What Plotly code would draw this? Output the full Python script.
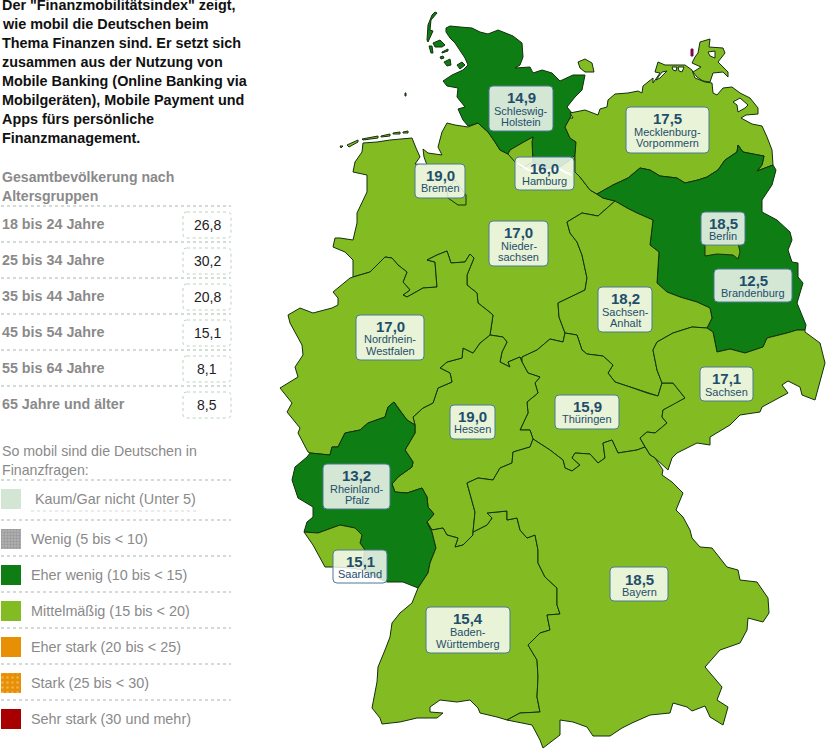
## Finanzmobilitaetsindex map of Germany with the side panel on the left
import plotly.graph_objects as go

intro_lines = ['Der "Finanzmobilitätsindex" zeigt,', 'wie mobil die Deutschen beim',
               'Thema Finanzen sind. Er setzt sich', 'zusammen aus der Nutzung von',
               'Mobile Banking (Online Banking via', 'Mobilgeräten), Mobile Payment und',
               'Apps fürs persönliche', 'Finanzmanagement.']
age_title = ['Gesamtbevölkerung nach', 'Altersgruppen']
age_groups = ['18 bis 24 Jahre', '25 bis 34 Jahre', '35 bis 44 Jahre',
              '45 bis 54 Jahre', '55 bis 64 Jahre', '65 Jahre und älter']
age_values = [26.8, 30.2, 20.8, 15.1, 8.1, 8.5]
legend_title = ['So mobil sind die Deutschen in', 'Finanzfragen:']
legend_labels = ['Kaum/Gar nicht (Unter 5)', 'Wenig (5 bis < 10)', 'Eher wenig (10 bis < 15)',
                 'Mittelmäßig (15 bis < 20)', 'Eher stark (20 bis < 25)',
                 'Stark (25 bis < 30)', 'Sehr stark (30 und mehr)']
legend_colors = ['#D3E5D3', '#9C9C9C', '#0E7D14', '#82BC22', '#E89005', '#E89005', '#A80000']
bin_edges = [5, 10, 15, 20, 25, 30]

states = ['Schleswig-Holstein', 'Hamburg', 'Bremen', 'Niedersachsen', 'Mecklenburg-Vorpommern',
          'Berlin', 'Brandenburg', 'Sachsen-Anhalt', 'Nordrhein-Westfalen', 'Hessen',
          'Rheinland-Pfalz', 'Saarland', 'Thüringen', 'Sachsen', 'Baden-Württemberg', 'Bayern']
state_values = [14.9, 16.0, 19.0, 17.0, 17.5, 18.5, 12.5, 18.2, 17.0, 19.0, 13.2, 15.1, 15.9, 17.1, 15.4, 18.5]
state_lines = [['Schleswig-', 'Holstein'], ['Hamburg'], ['Bremen'], ['Nieder-', 'sachsen'],
               ['Mecklenburg-', 'Vorpommern'], ['Berlin'], ['Brandenburg'], ['Sachsen-', 'Anhalt'],
               ['Nordrhein-', 'Westfalen'], ['Hessen'], ['Rheinland-', 'Pfalz'], ['Saarland'],
               ['Thüringen'], ['Sachsen'], ['Baden-', 'Württemberg'], ['Bayern']]

# label boxes: x0, y0, x1, y1, y of value, y of each name line (same order as states)
label_boxes = [(489, 86, 553, 131, 97, [111, 122]), (515, 157, 574, 190, 168, [181]),
               (415, 164, 465, 198, 175, [188]), (489, 221, 548, 266, 232, [246, 257]),
               (626, 107, 709, 153, 118, [132, 143]), (701, 212, 745, 245, 223, [236]),
               (714, 269, 792, 302, 280, [293]), (598, 287, 652, 332, 298, [312, 323]),
               (356, 315, 424, 360, 326, [339, 351]), (450, 405, 495, 439, 416, [429]),
               (323, 464, 390, 509, 475, [489, 500]), (333, 550, 387, 583, 561, [574]),
               (555, 395, 619, 429, 406, [419]), (700, 367, 753, 401, 378, [392]),
               (426, 607, 510, 653, 618, [632, 644]), (610, 567, 668, 601, 579, [592])]

sh_coast = [(478,123),(468,126),(463,120),(458,109),(465,107),(457,97),(458,88),(447,86),(443,81),(452,75),
            (463,70),(468,65),(465,58),(455,43),(450,38),(446,32),(446,28),(450,26),(460,27),(472,28),(480,32),
            (488,34),(498,30),(505,33),(513,36),(522,43),(523,57),(520,65),(515,68),(530,67),(533,73),(542,70),
            (552,73),(560,81),(573,75),(585,75),(582,90),(575,97),(567,107),(572,113),(570,118)]
sh_mv = [(570,118),(565,127),(570,138),(576,142),(575,155)]
sh_ni = [(575,155),(570,160),(558,168),(545,168),(533,162),(532,142),(533,137),(522,143),(510,150),(508,154),
         (500,150),(495,142),(488,132),(478,123)]
ni_coast = [(478,123),(468,127),(455,125),(447,123),(442,132),(438,147),(442,155),(428,153),(423,149),(424,157),
            (427,165),(415,164),(420,157),(416,148),(412,138),(390,140),(377,142),(363,143),(362,152),(355,162),
            (353,172),(367,175),(367,192),(357,213),(357,223),(353,240),(340,238),(335,238),(333,247),(345,252),
            (353,260),(353,277)]
mv_ni = [(575,155),(575,172),(580,177),(590,190),(597,194)]
mv_coast = [(570,118),(573,118),(570,113),(585,110),(598,115),(600,109),(607,107),(608,100),(615,94),(628,93),
            (638,91),(642,93),(643,86),(653,78),(653,83),(660,73),(655,72),(658,62),(665,65),(685,65),(692,70),
            (695,78),(705,82),(712,83),(713,93),(717,95),(723,88),(732,87),(740,93),(750,98),(758,108),(758,114),
            (746,115),(741,118),(752,124),(762,126),(767,137),(772,150),(773,165)]
bb_mv = [(597,194),(613,185),(628,178),(640,168),(650,170),(660,176),(677,178),(685,183),(698,180),(707,177),
         (718,170),(725,160),(737,152),(738,145),(743,152),(757,155),(764,156),(762,165),(757,171),(773,165)]
bb_east = [(773,165),(776,170),(772,185),(762,200),(762,212),(777,220),(790,232),(792,240),(788,250),(792,262),
           (798,263),(798,277),(803,283),(797,303),(806,325),(805,330)]
bb_sn = [(805,330),(797,330),(787,333),(767,338),(763,347),(745,353),(730,349),(717,352),(713,332),(707,328)]
bb_st = [(707,328),(712,318),(710,308),(697,302),(680,297),(667,292),(657,283),(659,252),(650,245),(653,220),
         (637,213),(627,208),(615,201)]
bb_ni = [(615,201),(603,198),(597,194)]
st_ni = [(615,201),(598,216),(582,213),(570,220),(567,222),(570,233),(577,242),(582,255),(587,278),(585,290),
         (570,297),(558,303),(559,317),(565,333)]
st_th = [(565,333),(577,335),(582,350),(587,354),(603,356),(613,365),(608,373),(615,382),(633,388),(647,393),
         (658,396),(662,383)]
st_sn = [(662,383),(657,370),(653,350),(657,342),(673,333),(692,327),(707,328)]
th_sn = [(662,383),(673,383),(685,398),(673,405),(663,410),(662,417),(667,423),(655,433),(647,432),(640,438),(645,447)]
th_by = [(645,447),(637,450),(618,453),(612,440),(603,443),(605,458),(598,463),(590,454),(575,453),(572,458),
         (580,465),(572,471),(565,468),(563,460),(550,450),(533,439)]
th_he = [(533,439),(530,430),(520,430),(528,413),(527,402),(538,393),(535,383),(540,377),(528,373),(522,362)]
th_ni = [(522,362),(522,357),(537,350),(550,339),(563,342),(565,333)]
he_ni = [(522,362),(520,357),(508,362),(510,367),(500,362),(502,352),(507,342),(503,337),(490,335)]
he_nw = [(490,335),(480,343),(473,353),(463,348),(462,358),(447,362),(440,368),(450,373),(452,382),(438,388),
         (433,403),(423,408),(413,417),(415,425)]
he_rp = [(415,425),(415,433),(405,450),(413,462),(412,467),(398,477),(392,484),(395,492),(407,493),(422,488),
         (427,497),(428,507),(434,514),(427,522)]
he_bw = [(427,522),(432,530),(443,528),(447,535),(458,538),(455,547),(463,545),(473,535),(473,532)]
he_by = [(473,532),(475,512),(467,483),(478,478),(493,480),(500,468),(512,463),(513,452),(530,447),(533,439)]
nw_ni = [(353,277),(370,272),(385,257),(392,258),(398,265),(407,272),(403,282),(410,290),(403,295),(407,297),
         (423,288),(437,287),(435,262),(427,260),(437,255),(447,251),(451,263),(465,262),(470,254),(474,258),
         (467,275),(467,285),(477,293),(478,303),(487,310),(493,315),(490,335)]
nw_west = [(310,453),(308,452),(298,433),(300,428),(287,412),(292,403),(280,388),(298,377),(295,367),(303,355),
           (302,345),(298,338),(290,323),(288,315),(300,308),(313,313),(317,312),(332,308),(338,305),(338,298),
           (333,292),(350,278),(353,277)]
nw_rp = [(310,453),(330,455),(332,447),(338,447),(345,433),(360,430),(368,423),(385,417),(388,407),(394,402),
         (398,408),(407,420),(415,425)]
rp_west = [(310,453),(307,457),(295,467),(292,480),(298,498),(313,507),(313,517),(307,522),(304,532)]
rp_sl = [(304,532),(318,533),(340,525),(355,528),(362,535),(360,543),(365,550),(363,560),(365,570)]
sl_south = [(304,532),(313,545),(325,567),(333,567),(350,568),(365,570)]
rp_south = [(365,570),(375,577),(387,582),(403,582),(418,588)]
rp_bw = [(418,588),(428,573),(430,563),(436,548),(432,532),(427,522)]
bw_by = [(473,532),(487,525),(492,518),(487,513),(507,511),(507,520),(517,518),(520,530),(527,538),(535,535),
         (538,550),(538,563),(545,577),(557,588),(557,605),(560,614),(547,615),(550,630),(540,633),(528,645),
         (537,660),(538,677),(537,697),(540,712),(520,713),(507,720)]
bw_south = [(418,588),(412,603),(400,613),(392,623),(390,637),(385,650),(378,667),(377,682),(372,708),(380,718),
            (382,724),(400,722),(417,718),(437,718),(443,713),(430,712),(430,707),(440,700),(457,702),(470,700),
            (478,708),(480,713),(497,717),(507,720)]
by_south = [(507,720),(532,725),(540,740),(543,748),(560,735),(560,720),(573,722),(587,727),(593,736),(610,736),
            (622,728),(632,723),(650,715),(670,713),(673,703),(687,707),(692,711),(705,706),(710,717),(723,725),
            (728,707),(717,700),(722,687),(705,667),(720,650),(740,643),(747,630),(748,618),(763,622),(769,613),
            (768,598),(757,582),(740,580),(738,570),(727,567),(712,548),(700,547),(692,538),(690,530),(683,517),
            (676,510),(683,493),(672,482),(662,475),(663,470),(655,458)]
sn_by = [(645,447),(650,455),(655,458)]
sn_south = [(655,458),(668,470),(672,458),(677,453),(697,443),(710,445),(710,437),(730,425),(740,415),(760,412),
            (762,407),(788,393),(782,385),(788,381),(800,387),(802,395),(815,400),(825,363),(820,343),(805,332),(805,330)]

hamburg_outline = [(508,154),(510,150),(522,143),(533,137),(532,142),(533,162),(522,168),(515,162)]
bremen_outline = [(447,190),(448,198),(458,205),(466,205),(466,195),(455,180)]
berlin_outline = [(705,243),(705,248),(705,256),(717,254),(733,255),(738,259),(740,252),(738,243)]
sh_islands = [[(435,12),(437,13),(431,20),(430,30),(433,31),(428,42),(427,40),(428,25),(432,15)],
              [(433,43),(440,40),(445,45),(442,47),(435,47)], [(429,46),(432,46),(433,53),(431,53)],
              [(442,52),(448,49),(448,51),(442,53)], [(440,57),(443,56),(444,58),(441,59)],
              [(444,62),(450,59),(451,65),(447,66)], [(457,65),(462,62),(465,65),(460,69)],
              [(405,93),(406,93),(406,96),(405,96)]]
ni_islands = [[(340,146),(343,146),(341,148)], [(347,145),(358,140),(358,142),(349,147)],
              [(362,139),(378,136),(378,138),(363,140)], [(381,136),(390,134),(390,136),(381,137)],
              [(393,133),(400,132),(400,134),(393,134)], [(403,132),(408,131),(408,133),(403,133)]]
mv_islands = [[(700,42),(710,39),(709,47),(723,48),(725,53),(718,62),(728,72),(728,77),(723,72),(713,73),(710,82),
               (703,81),(697,77),(693,72),(701,67),(692,63),(695,57),(698,53)],
              [(578,62),(585,59),(592,63),(594,72),(585,72),(580,68)]]
hiddensee = [(691,49),(693,49),(693,56),(691,56)]
water_holes = [[(656,80),(662,72),(667,71),(660,78)], [(672,67),(677,67),(676,71),(673,70)],
               [(678,67),(684,67),(682,72),(679,71)], [(708,52),(715,51),(715,58),(710,56)],
               [(733,102),(740,98),(748,105),(745,108),(738,112),(737,105)]]
elbe_line = [(517,163),(525,168),(533,172),(545,172),(558,168),(565,172),(572,175)]

LIGHT_TEXT = '#8A8A8A'
BOX_TEXT = '#1F4E6B'
FONT = 'Liberation Sans'


def r(arc):
    return arc[::-1]


def join(*parts):
    # several closed rings in one trace, split by None
    xs, ys = [], []
    for ring in parts:
        xs += [p[0] for p in ring] + [ring[0][0], None]
        ys += [p[1] for p in ring] + [ring[0][1], None]
    return xs, ys


def bin_color(value):
    for i, edge in enumerate(bin_edges):
        if value < edge:
            return legend_colors[i]
    return legend_colors[-1]


def rounded(x0, y0, x1, y1, c=4):
    return (f'M {x0+c} {y0} L {x1-c} {y0} Q {x1} {y0} {x1} {y0+c} L {x1} {y1-c} Q {x1} {y1} {x1-c} {y1} '
            f'L {x0+c} {y1} Q {x0} {y1} {x0} {y1-c} L {x0} {y0+c} Q {x0} {y0} {x0+c} {y0} Z')


def de(value):
    return f'{value:.1f}'.replace('.', ',')


def label(text, x, y, size, color, anchor='left', bold=False, shift=0):
    return dict(text=text, x=x, y=y, xref='x', yref='y', showarrow=False, xanchor=anchor, yanchor='middle',
                xshift=shift, font=dict(family=FONT, size=size, color=color, weight='bold' if bold else 'normal'))


outlines = {
    'Schleswig-Holstein': [sh_coast + sh_mv + sh_ni] + sh_islands,
    'Niedersachsen': [r(sh_ni) + mv_ni + r(bb_ni) + st_ni + r(th_ni) + he_ni + r(nw_ni) + r(ni_coast)] + ni_islands,
    'Hamburg': [hamburg_outline],
    'Bremen': [bremen_outline],
    'Mecklenburg-Vorpommern': [mv_coast + r(bb_mv) + r(mv_ni) + r(sh_mv)] + mv_islands,
    'Brandenburg': [bb_mv + bb_east + bb_sn + bb_st + bb_ni],
    'Berlin': [berlin_outline],
    'Sachsen-Anhalt': [st_ni + st_th + st_sn + bb_st],
    'Thüringen': [st_th + th_sn + th_by + th_he + th_ni],
    'Sachsen': [th_sn + sn_by + sn_south + bb_sn + r(st_sn)],
    'Hessen': [he_nw + he_rp + he_bw + he_by + th_he + he_ni],
    'Nordrhein-Westfalen': [nw_ni + he_nw + r(nw_rp) + nw_west],
    'Rheinland-Pfalz': [nw_rp + he_rp + r(rp_bw) + r(rp_south) + r(rp_sl) + r(rp_west)],
    'Saarland': [rp_sl + r(sl_south)],
    'Baden-Württemberg': [rp_bw + he_bw + bw_by + r(bw_south)],
    'Bayern': [r(he_by) + bw_by + by_south + r(sn_by) + th_by],
}

fig = go.Figure()

# draw order: big states first, city states on top of them
draw_order = ['Niedersachsen', 'Schleswig-Holstein', 'Mecklenburg-Vorpommern', 'Brandenburg', 'Sachsen-Anhalt',
              'Thüringen', 'Sachsen', 'Hessen', 'Nordrhein-Westfalen', 'Rheinland-Pfalz', 'Saarland',
              'Baden-Württemberg', 'Bayern', 'Hamburg', 'Bremen', 'Berlin']
for name in draw_order:
    value = state_values[states.index(name)]
    xs, ys = join(*outlines[name])
    fig.add_trace(go.Scatter(x=xs, y=ys, mode='lines', fill='toself', fillcolor=bin_color(value),
                             line=dict(color='#13300C', width=1), name=name, hoveron='fills',
                             hovertemplate=f'{name}: {de(value)}<extra></extra>'))

xs, ys = join(*water_holes)
fig.add_trace(go.Scatter(x=xs, y=ys, mode='lines', fill='toself', fillcolor='white',
                         line=dict(color='#13300C', width=1), hoverinfo='skip'))
fig.add_trace(go.Scatter(x=[p[0] for p in elbe_line], y=[p[1] for p in elbe_line], mode='lines',
                         line=dict(color='white', width=2), hoverinfo='skip'))
xs, ys = join(hiddensee)
fig.add_trace(go.Scatter(x=xs, y=ys, mode='lines', fill='toself', fillcolor='#7A0A50',
                         line=dict(color='#7A0A50', width=1), hoverinfo='skip'))

annotations = []
shapes = []

# state labels
for i, box in enumerate(label_boxes):
    x0, y0, x1, y1, value_y, line_ys = box
    shapes.append(dict(type='path', path=rounded(x0, y0, x1, y1), fillcolor='rgba(255,255,255,0.82)',
                       line=dict(color='#4A7A96', width=1), layer='above'))
    mid = (x0 + x1) / 2
    annotations.append(label(de(state_values[i]), mid, value_y, 15, BOX_TEXT, 'center', True))
    for text, y in zip(state_lines[i], line_ys):
        annotations.append(label(text, mid, y, 11, BOX_TEXT, 'center'))

# intro text
for i, text in enumerate(intro_lines):
    annotations.append(label(text, 1, 5 + 19 * i, 14.4, '#111111', bold=True, shift=-1))

# age table
for i, text in enumerate(age_title):
    annotations.append(label(text, 1, 177 + 19 * i, 14.1, LIGHT_TEXT, bold=True, shift=-1))
for i, text in enumerate(age_groups):
    y = 224 + 36 * i
    annotations.append(label(text, 1, y, 14.3, LIGHT_TEXT, bold=True, shift=-1))
    annotations.append(label(de(age_values[i]), 207, y + 1, 14, '#222222', 'center'))
    shapes.append(dict(type='path', path=rounded(183, y - 12, 231, y + 14), fillcolor='white',
                       line=dict(color='#B9D4B9', width=1, dash='dot'), layer='above'))
    if i < len(age_groups) - 1:
        shapes.append(dict(type='line', x0=1, x1=231, y0=y + 18, y1=y + 18, layer='above',
                           line=dict(color='#A9B5B0', width=1, dash='dot')))
shapes.append(dict(type='line', x0=1, x1=231, y0=206, y1=206, layer='above',
                   line=dict(color='#A9B5B0', width=1, dash='dot')))

# colour key
for i, text in enumerate(legend_title):
    annotations.append(label(text, 1, 451 + 19 * i, 14.2, LIGHT_TEXT, shift=-1))
shapes.append(dict(type='line', x0=1, x1=231, y0=480, y1=480, layer='above',
                   line=dict(color='#A9B5B0', width=1, dash='dot')))
patterns = {1: dict(shape='.', size=3, solidity=0.5, fgcolor='#7E7E7E', bgcolor='#B4B4B4'),
            5: dict(shape='.', size=5, solidity=0.2, fgcolor='#F8D488', bgcolor='#E89005')}
for i, text in enumerate(legend_labels):
    top = 529 + 36 * (i - 1) if i else 489
    bottom = top + 20
    trace = dict(x=[1, 21, 21, 1, 1], y=[top, top, bottom, bottom, top], mode='lines', fill='toself',
                 line=dict(width=0), hoverinfo='skip')
    if i in patterns:
        trace['fillpattern'] = patterns[i]
    else:
        trace['fillcolor'] = legend_colors[i]
    fig.add_trace(go.Scatter(**trace))
    annotations.append(label(text, 33 if i == 0 else 29, top + 10, 14.4, LIGHT_TEXT))
    if i > 0:
        shapes.append(dict(type='line', x0=1, x1=231, y0=top - 9, y1=top - 9, layer='above',
                           line=dict(color='#A9B5B0', width=1, dash='dot')))
shapes.append(dict(type='line', x0=31, x1=197, y0=511, y1=511, layer='above',
                   line=dict(color='#D5D9D6', width=1, dash='dot')))

fig.update_layout(width=826, height=750, margin=dict(l=0, r=0, t=0, b=0), showlegend=False,
                  paper_bgcolor='white', plot_bgcolor='white', shapes=shapes, annotations=annotations,
                  xaxis=dict(range=[0, 826], visible=False, fixedrange=True),
                  yaxis=dict(range=[750, 0], visible=False, fixedrange=True))

fig.write_html("out.html", config={'displayModeBar': False},
               post_script="document.body.style.margin='0';")
